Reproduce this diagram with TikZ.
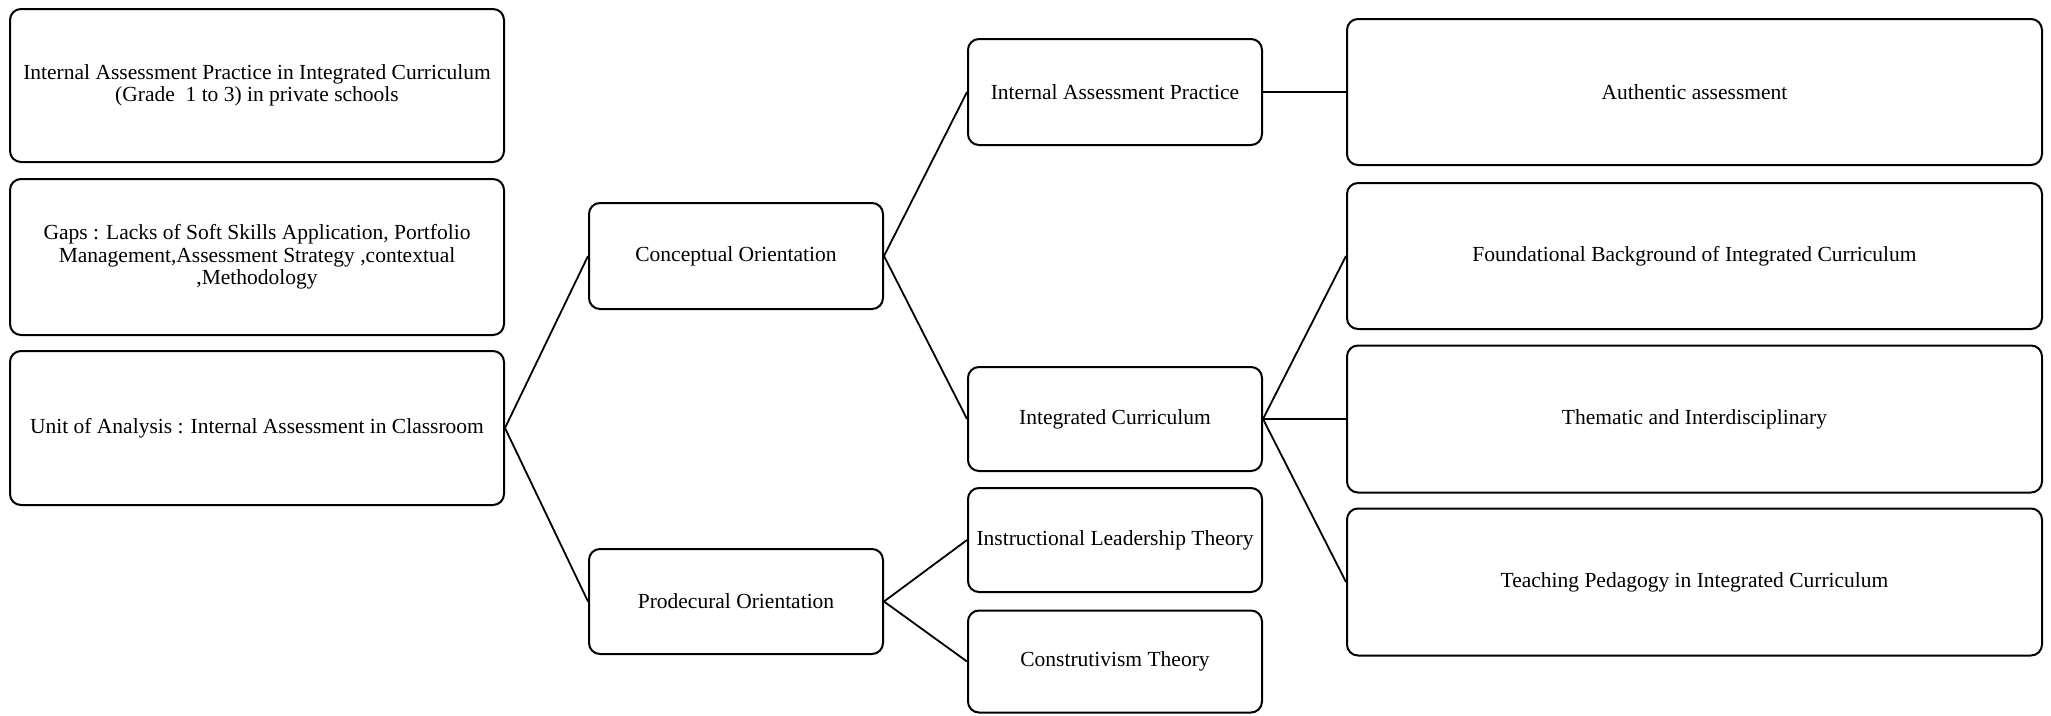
\documentclass[tikz,border=0pt]{standalone}
\usepackage{fontspec}
\setmainfont{Liberation Serif}
\begin{document}
\begin{tikzpicture}[x=1pt,y=-1pt,
  box/.style={draw=black, line width=2pt, rounded corners=11pt, inner sep=0pt, align=center,
    font=\fontsize{21.5}{22.5}\selectfont},
  link/.style={draw=black, line width=1.8pt}]
\useasboundingbox (0,0) rectangle (2051,715);
\fill[white] (0,0) rectangle (2051,715);
% left column
\node[box, minimum width=494pt, minimum height=153pt] (top) at (257,85.5)
  {Internal Assessment Practice in Integrated Curriculum\\(Grade \ 1 to 3) in private schools};
\node[box, minimum width=494pt, minimum height=156pt] (gaps) at (257,257)
  {Gaps : Lacks of Soft Skills Application, Portfolio\\Management,Assessment Strategy ,contextual\\,Methodology};
\node[box, minimum width=494pt, minimum height=154pt] (unit) at (257,428)
  {Unit of Analysis : Internal Assessment in Classroom};
% second column
\node[box, minimum width=294pt, minimum height=106pt] (concept) at (736,256) {Conceptual Orientation};
\node[box, minimum width=294pt, minimum height=105pt] (proc) at (736,601.5) {Prodecural Orientation};
% third column
\node[box, minimum width=294pt, minimum height=106pt] (iap) at (1115,92) {Internal Assessment Practice};
\node[box, minimum width=294pt, minimum height=104pt] (ic) at (1115,419) {Integrated Curriculum};
\node[box, minimum width=294pt, minimum height=104pt] (ilt) at (1115,540) {Instructional Leadership Theory};
\node[box, minimum width=294pt, minimum height=102pt] (cons) at (1115,661.5) {Construtivism Theory};
% fourth column
\node[box, minimum width=695pt, minimum height=146pt] (auth) at (1694.5,92) {Authentic assessment};
\node[box, minimum width=695pt, minimum height=146pt] (found) at (1694.5,256) {Foundational Background of Integrated Curriculum};
\node[box, minimum width=695pt, minimum height=147pt] (them) at (1694.5,419) {Thematic and Interdisciplinary};
\node[box, minimum width=695pt, minimum height=147pt] (teach) at (1694.5,582) {Teaching Pedagogy in Integrated Curriculum};
% connectors
\draw[link] (unit.east) -- (concept.west);
\draw[link] (unit.east) -- (proc.west);
\draw[link] (concept.east) -- (iap.west);
\draw[link] (concept.east) -- (ic.west);
\draw[link] (proc.east) -- (ilt.west);
\draw[link] (proc.east) -- (cons.west);
\draw[link] (iap.east) -- (auth.west);
\draw[link] (ic.east) -- (found.west);
\draw[link] (ic.east) -- (them.west);
\draw[link] (ic.east) -- (teach.west);
\end{tikzpicture}
\end{document}
